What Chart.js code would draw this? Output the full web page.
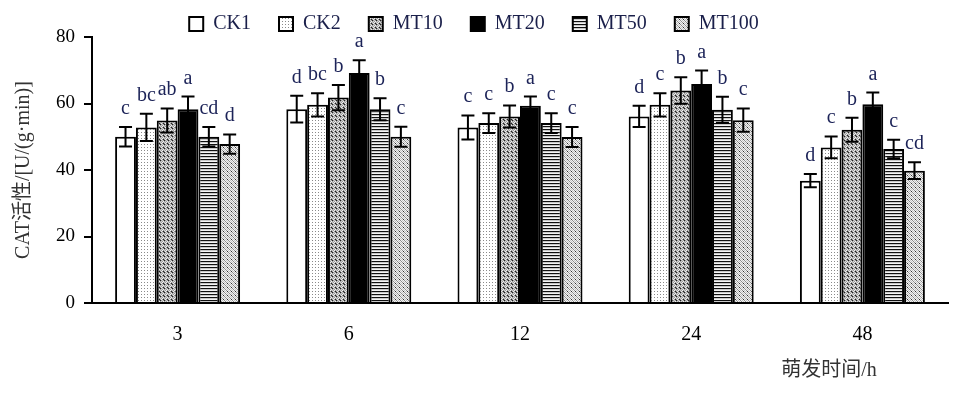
<!DOCTYPE html>
<html>
<head>
<meta charset="utf-8">
<script src="https://cdn.jsdelivr.net/npm/chart.js@4"></script>
<style>
  html, body { margin: 0; padding: 0; background: #fff; }
  #wrap { width: 965px; height: 394px; }
</style>
</head>
<body>
<div id="wrap"><canvas id="catChart" width="965" height="394"></canvas></div>
<script>
// 萌发时间 (h)
const categories = ['3', '6', '12', '24', '48'];
const seriesNames = ['CK1', 'CK2', 'MT10', 'MT20', 'MT50', 'MT100'];

// CAT 活性 mean values
const ck1   = [50.0, 58.3, 52.8, 56.1, 36.8];
const ck2   = [52.8, 59.6, 54.1, 59.6, 46.8];
const mt10  = [54.9, 61.8, 56.1, 63.9, 52.1];
const mt20  = [58.3, 69.2, 59.3, 65.9, 59.8];
const mt50  = [50.0, 58.3, 54.1, 58.1, 46.3];
const mt100 = [47.8, 50.0, 49.9, 55.0, 39.8];

// error bar half widths
const ck1Err   = [2.9, 4.0, 3.6, 3.2, 2.0];
const ck2Err   = [4.1, 3.5, 3.0, 3.5, 3.3];
const mt10Err  = [3.6, 3.8, 3.3, 4.0, 3.6];
const mt20Err  = [3.8, 3.8, 2.8, 4.0, 3.5];
const mt50Err  = [2.9, 3.3, 3.0, 3.9, 2.8];
const mt100Err = [2.9, 3.0, 3.0, 3.5, 2.5];

// significance letters
const ck1Sig   = ['c', 'd', 'c', 'd', 'd'];
const ck2Sig   = ['bc', 'bc', 'c', 'c', 'c'];
const mt10Sig  = ['ab', 'b', 'b', 'b', 'b'];
const mt20Sig  = ['a', 'a', 'a', 'a', 'a'];
const mt50Sig  = ['cd', 'b', 'c', 'b', 'c'];
const mt100Sig = ['d', 'c', 'c', 'c', 'cd'];

const yTicks = [0, 20, 40, 60, 80];

const serif = "'Liberation Serif', 'Times New Roman', 'Noto Sans CJK SC', serif";

// small tiled fills like the original print patterns
function makePattern(rows, colors) {
  const h = rows.length, w = rows[0].length;
  const c = document.createElement('canvas');
  c.width = w; c.height = h;
  const g = c.getContext('2d');
  for (let y = 0; y < h; y++) {
    for (let x = 0; x < w; x++) {
      g.fillStyle = colors[rows[y][x]];
      g.fillRect(x, y, 1, 1);
    }
  }
  return g.createPattern(c, 'repeat');
}

const fills = [
  '#ffffff',
  makePattern(['d..', '...', '...'], { d: '#8a8a8a', '.': '#ffffff' }),
  makePattern(['kgLg', 'gLgw', 'Lgwg', 'gwgk'], { k: '#202020', g: '#9a9a9a', L: '#cfcfcf', w: '#f0f0f0' }),
  '#000000',
  makePattern(['k', 'l', 'w'], { k: '#101010', l: '#c8c8c8', w: '#f4f4f4' }),
  makePattern(['gwLw', 'wgwL', 'Lwgw', 'wLwk'], { k: '#303030', g: '#8e8e8e', L: '#c4c4c4', w: '#f2f2f2' })
];

const values = [ck1, ck2, mt10, mt20, mt50, mt100];
const errs = [ck1Err, ck2Err, mt10Err, mt20Err, mt50Err, mt100Err];
const sigs = [ck1Sig, ck2Sig, mt10Sig, mt20Sig, mt50Sig, mt100Sig];

const datasets = seriesNames.map((name, i) => ({
  label: name,
  data: values[i],
  err: errs[i],
  sig: sigs[i],
  backgroundColor: fills[i],
  borderColor: '#000',
  borderWidth: 2,
  categoryPercentage: 0.73,
  barPercentage: 1.0
}));

// error bars + letters
const errorBarPlugin = {
  id: 'errorBars',
  afterDatasetsDraw(chart) {
    const ctx = chart.ctx;
    const y = chart.scales.y;
    ctx.save();
    chart.data.datasets.forEach((ds, di) => {
      const meta = chart.getDatasetMeta(di);
      meta.data.forEach((bar, i) => {
        const v = ds.data[i], e = ds.err[i];
        const yTop = y.getPixelForValue(v + e);
        const yBot = y.getPixelForValue(v - e);
        const x = bar.x;
        ctx.strokeStyle = '#000';
        ctx.lineWidth = 2;
        ctx.beginPath();
        ctx.moveTo(x, yTop); ctx.lineTo(x, yBot);
        ctx.moveTo(x - 6.5, yTop); ctx.lineTo(x + 6.5, yTop);
        ctx.moveTo(x - 6.5, yBot); ctx.lineTo(x + 6.5, yBot);
        ctx.stroke();
        ctx.fillStyle = '#1c2358';
        ctx.font = '20px ' + serif;
        ctx.textAlign = 'center';
        ctx.textBaseline = 'alphabetic';
        ctx.fillText(ds.sig[i], x, yTop - 13);
      });
    });
    ctx.restore();
  }
};

// x axis title sits toward the right under the axis
const xTitlePlugin = {
  id: 'xTitle',
  afterDraw(chart) {
    const ctx = chart.ctx;
    const a = chart.chartArea;
    ctx.save();
    ctx.fillStyle = '#333';
    ctx.font = '20px ' + serif;
    ctx.textAlign = 'center';
    ctx.textBaseline = 'middle';
    ctx.fillText('萌发时间/h', a.right - 119, a.bottom + 68);
    ctx.restore();
  }
};

const ctx1 = document.getElementById('catChart');
const catChart = new Chart(ctx1, {
  type: 'bar',
  data: {
    labels: categories,
    datasets: datasets
  },
  options: {
    responsive: false,
    animation: false,
    layout: {
      padding: { top: -14, right: 17, bottom: 27, left: 0 }
    },
    plugins: {
      legend: {
        display: true,
        position: 'top',
        maxHeight: 51,
        labels: {
          boxWidth: 14,
          boxHeight: 14,
          padding: 28,
          color: '#1a1f4a',
          font: { family: serif, size: 20 }
        }
      },
      tooltip: { enabled: false }
    },
    scales: {
      x: {
        grid: { display: false, drawTicks: false },
        border: { color: '#000', width: 2 },
        ticks: {
          color: '#000',
          padding: 20,
          font: { family: serif, size: 20 }
        }
      },
      y: {
        min: 0,
        max: 80,
        afterFit: (s) => { s.width = 92; },
        afterBuildTicks: (s) => { s.ticks = yTicks.map(v => ({ value: v })); },
        grid: {
          drawOnChartArea: false,
          drawTicks: true,
          tickLength: 8,
          color: '#000',
          lineWidth: 2
        },
        border: { color: '#000', width: 2 },
        ticks: {
          color: '#000',
          padding: 9,
          font: { family: serif, size: 19 }
        },
        title: {
          display: true,
          text: 'CAT活性/[U/(g·min)]',
          color: '#333',
          padding: { top: 12, bottom: 0 },
          font: { family: serif, size: 20 }
        }
      }
    }
  },
  plugins: [errorBarPlugin, xTitlePlugin]
});
</script>
</body>
</html>
